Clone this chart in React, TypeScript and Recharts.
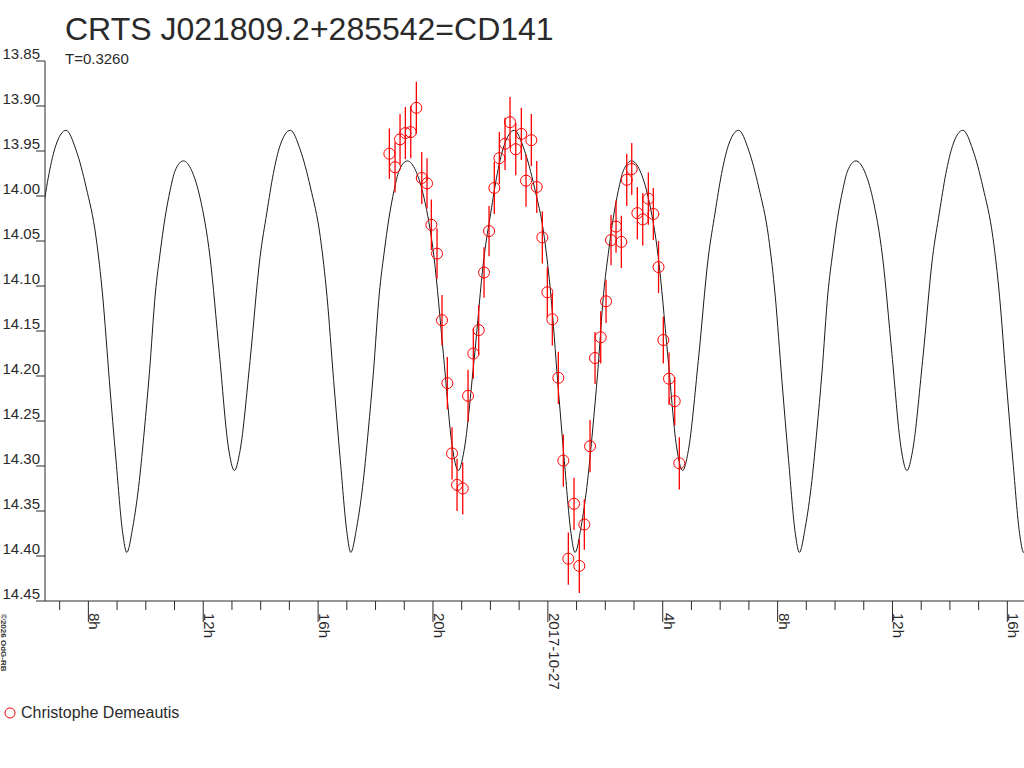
import React from 'react';
import { ComposedChart, Line, Scatter, ErrorBar, XAxis, YAxis } from 'recharts';

const FONT = '"Liberation Sans", Arial, sans-serif';
const INK = '#2a2a2a';
const RED = '#ff0000';

const titleText = 'CRTS J021809.2+285542=CD141';
const periodText = 'T=0.3260';
const observerName = 'Christophe Demeautis';
const creditText = '©2026 OdG-RB';

// magnitude axis (reversed)
const magTicks = [13.85, 13.9, 13.95, 14.0, 14.05, 14.1, 14.15, 14.2, 14.25, 14.3, 14.35, 14.4, 14.45];

// time axis, hours since 2017-10-26 00:00
const hourTicks = [7, 8, 9, 10, 11, 12, 13, 14, 15, 16, 17, 18, 19, 20, 21, 22, 23, 24, 25, 26, 27, 28, 29, 30, 31, 32, 33, 34, 35, 36, 37, 38, 39, 40];
const labelHours = [8, 12, 16, 20, 24, 28, 32, 36, 40];
const labelTexts = ['8h', '12h', '16h', '20h', '2017-10-27', '4h', '8h', '12h', '16h'];

// observations
const obsHours = [
  18.481, 18.679, 18.853, 19.038, 19.226, 19.421, 19.609, 19.793, 19.943, 20.141,
  20.315, 20.5, 20.664, 20.838, 21.036, 21.221, 21.405, 21.593, 21.778, 21.952,
  22.136, 22.311, 22.509, 22.683, 22.882, 23.077, 23.24, 23.425, 23.613, 23.808,
  23.982, 24.156, 24.365, 24.539, 24.713, 24.912, 25.096, 25.27, 25.469, 25.643,
  25.841, 26.026, 26.2, 26.374, 26.559, 26.747, 26.921, 27.116, 27.304, 27.499,
  27.673, 27.854, 28.021, 28.219, 28.418, 28.578,
];
const obsMag = [
  13.953, 13.968, 13.937, 13.93, 13.929, 13.902, 13.98, 13.986, 14.032, 14.064,
  14.138, 14.208, 14.286, 14.321, 14.325, 14.222, 14.175, 14.149, 14.085, 14.039,
  13.991, 13.958, 13.942, 13.918, 13.948, 13.931, 13.983, 13.938, 13.99, 14.046,
  14.107, 14.137, 14.202, 14.294, 14.403, 14.342, 14.411, 14.365, 14.278, 14.18,
  14.157, 14.117, 14.049, 14.034, 14.051, 13.982, 13.97, 14.019, 14.026, 14.003,
  14.02, 14.079, 14.16, 14.203, 14.228, 14.297,
];
const obsErr = [
  0.028, 0.028, 0.028, 0.029, 0.029, 0.029, 0.029, 0.028, 0.028, 0.028,
  0.028, 0.029, 0.029, 0.029, 0.029, 0.029, 0.028, 0.028, 0.028, 0.028,
  0.029, 0.029, 0.029, 0.028, 0.029, 0.029, 0.029, 0.029, 0.029, 0.029,
  0.028, 0.029, 0.029, 0.029, 0.029, 0.029, 0.030, 0.028, 0.029, 0.029,
  0.029, 0.024, 0.028, 0.029, 0.029, 0.029, 0.029, 0.029, 0.029, 0.029,
  0.029, 0.029, 0.026, 0.029, 0.027, 0.029,
];

// model light curve: times of deep minima and the shape of one cycle after each
const minimaHours = [1.527, 9.337, 17.136, 24.946, 32.756, 40.566];
const cycleOffset = [
  0, 0.209, 0.439, 0.613, 0.787, 0.996, 1.159, 1.334, 1.508, 1.682,
  1.971, 2.263, 2.552, 2.9, 3.224, 3.538, 3.747, 3.945, 4.293, 4.641,
  4.875, 5.104, 5.338, 5.696, 6.045, 6.393, 6.741, 6.974, 7.204, 7.437, 7.671,
];
const cycleMag = [
  14.396, 14.368, 14.316, 14.26, 14.197, 14.108, 14.064, 14.024, 13.994, 13.972,
  13.961, 13.972, 14.002, 14.068, 14.175, 14.279, 14.305, 14.283, 14.183, 14.068,
  14.019, 13.975, 13.944, 13.927, 13.949, 13.99, 14.046, 14.112, 14.205, 14.294, 14.375,
];

const observations = obsHours.map((t, i) => ({ t, mag: obsMag[i], err: obsErr[i] }));
const modelCurve = minimaHours.flatMap((m) =>
  cycleOffset.map((o, i) => ({ t: m + o, mag: cycleMag[i] }))
);

function MagTick(props: any) {
  const { x, y, payload } = props;
  return (
    <text x={x + 6} y={y - 2.5} textAnchor="end" fontSize={15} fill={INK} fontFamily={FONT}>
      {Number(payload.value).toFixed(2)}
    </text>
  );
}

function HourTick(props: any) {
  const { x, y, payload } = props;
  const idx = labelHours.indexOf(payload.value);
  const len = idx >= 0 ? 21 : 9;
  return (
    <g>
      <line x1={x} x2={x} y1={y} y2={y + len} stroke={INK} />
      {idx >= 0 && (
        <text
          transform={`translate(${x + 1},${y + 12}) rotate(90)`}
          fontSize={15}
          fill={INK}
          fontFamily={FONT}
        >
          {labelTexts[idx]}
        </text>
      )}
    </g>
  );
}

function Ring(props: any) {
  const { cx, cy } = props;
  return <circle cx={cx} cy={cy} r={5.5} fill="none" stroke={RED} strokeWidth={1} />;
}

export default function App() {
  return (
    <div style={{ position: 'absolute', left: 0, top: 0, width: 1024, height: 768, background: '#fff' }}>
      <ComposedChart width={1024} height={768} margin={{ top: 61, right: 0, bottom: 67, left: 0 }}>
        <XAxis
          dataKey="t"
          type="number"
          domain={[6.49, 40.58]}
          allowDataOverflow
          ticks={hourTicks}
          interval={0}
          height={100}
          tickLine={false}
          tickSize={0}
          tickMargin={0}
          axisLine={{ stroke: INK }}
          tick={<HourTick />}
        />
        <YAxis
          dataKey="mag"
          type="number"
          reversed
          domain={[13.85, 14.45]}
          allowDataOverflow
          ticks={magTicks}
          interval={0}
          width={45}
          tickSize={9}
          axisLine={{ stroke: INK }}
          tickLine={{ stroke: INK }}
          tick={<MagTick />}
        />
        <Line
          data={modelCurve}
          dataKey="mag"
          type="monotone"
          stroke="#1a1a1a"
          strokeWidth={1}
          dot={false}
          activeDot={false}
          isAnimationActive={false}
        />
        <Scatter data={observations} dataKey="mag" shape={<Ring />} isAnimationActive={false}>
          <ErrorBar dataKey="err" direction="y" width={0} stroke={RED} strokeWidth={1.3} isAnimationActive={false} />
        </Scatter>
      </ComposedChart>
      <svg
        width={1024}
        height={768}
        style={{ position: 'absolute', left: 0, top: 0, pointerEvents: 'none' }}
        fontFamily={FONT}
      >
        <text x={65} y={40} fontSize={32} fill={INK}>{titleText}</text>
        <text x={65} y={64} fontSize={15} fill={INK}>{periodText}</text>
        <circle cx={10} cy={713} r={5} fill="none" stroke={RED} />
        <text x={21} y={718} fontSize={16} fill={INK}>{observerName}</text>
        <text transform="translate(0.5,614) rotate(90)" fontSize={8} fontWeight="bold" fill="#333">
          {creditText}
        </text>
      </svg>
    </div>
  );
}
